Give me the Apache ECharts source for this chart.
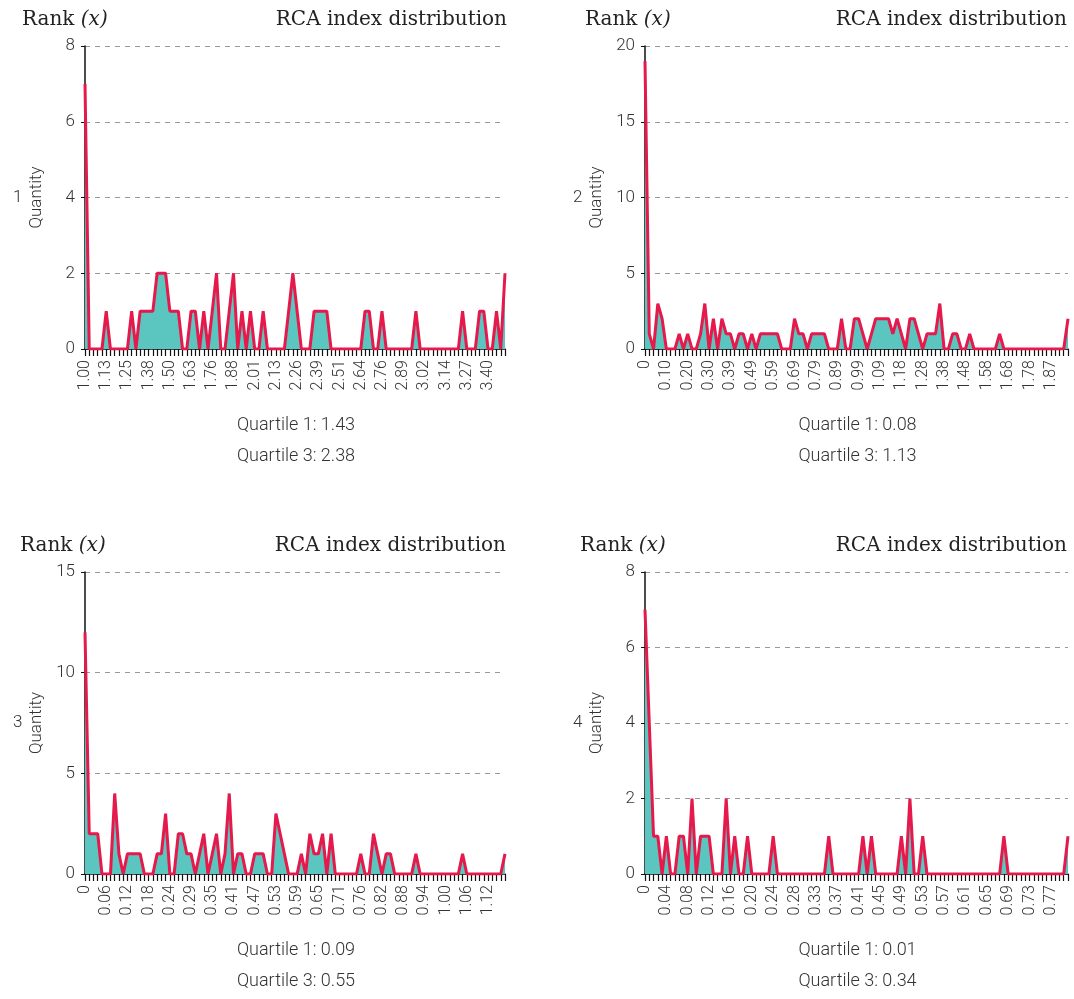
<!DOCTYPE html>
<html>
<head>
  <meta charset="utf-8">
  <title>RCA index distribution</title>
  <script src="https://cdn.jsdelivr.net/npm/echarts@6/dist/echarts.min.js"></script>
</head>
<body style="margin:0">
  <div id="main" style="width:1074px;height:999px;"></div>
  <script type="text/javascript">
    // quantity per RCA bin, 100 bins per rank
    var rank1 = [7,0,0,0,0,1,0,0,0,0, 0,1,0,1,1,1,1,2,2,2, 1,1,1,0,0,1,1,0,1,0, 1,2,0,0,1,2,0,1,0,1,
                 0,0,1,0,0,0,0,0,1,2, 1,0,0,0,1,1,1,1,0,0, 0,0,0,0,0,0,1,1,0,0, 1,0,0,0,0,0,0,0,1,0,
                 0,0,0,0,0,0,0,0,0,1, 0,0,0,1,1,0,0,1,0,2];
    var rank2 = [19,1,0,3,2,0,0,0,1,0, 1,0,0,1,3,0,2,0,2,1, 1,0,1,1,0,1,0,1,1,1, 1,1,0,0,0,2,1,1,0,1,
                 1,1,1,0,0,0,2,0,0,2, 2,1,0,1,2,2,2,2,1,2, 1,0,2,2,1,0,1,1,1,3, 0,0,1,1,0,0,1,0,0,0,
                 0,0,0,1,0,0,0,0,0,0, 0,0,0,0,0,0,0,0,0,2];
    var rank3 = [12,2,2,2,0,0,0,4,1,0, 1,1,1,1,0,0,0,1,1,3, 0,0,2,2,1,1,0,1,2,0, 1,2,0,1,4,0,1,1,0,0,
                 1,1,1,0,0,3,2,1,0,0, 0,1,0,2,1,1,2,0,2,0, 0,0,0,0,0,1,0,0,2,1, 0,1,1,0,0,0,0,0,1,0,
                 0,0,0,0,0,0,0,0,0,1, 0,0,0,0,0,0,0,0,0,1];
    var rank4 = [7,4,1,1,0,1,0,0,1,1, 0,2,0,1,1,1,0,0,0,2, 0,1,0,0,1,0,0,0,0,0, 1,0,0,0,0,0,0,0,0,0,
                 0,0,0,1,0,0,0,0,0,0, 0,1,0,1,0,0,0,0,0,0, 1,0,2,0,0,1,0,0,0,0, 0,0,0,0,0,0,0,0,0,0,
                 0,0,0,0,1,0,0,0,0,0, 0,0,0,0,0,0,0,0,0,1];

    // tick labels (every 5th bin)
    var ticks1 = ['1.00','1.13','1.25','1.38','1.50','1.63','1.76','1.88','2.01','2.13','2.26','2.39','2.51','2.64','2.76','2.89','3.02','3.14','3.27','3.40'];
    var ticks2 = ['0','0.10','0.20','0.30','0.39','0.49','0.59','0.69','0.79','0.89','0.99','1.09','1.18','1.28','1.38','1.48','1.58','1.68','1.78','1.87'];
    var ticks3 = ['0','0.06','0.12','0.18','0.24','0.29','0.35','0.41','0.47','0.53','0.59','0.65','0.71','0.76','0.82','0.88','0.94','1.00','1.06','1.12'];
    var ticks4 = ['0','0.04','0.08','0.12','0.16','0.20','0.24','0.28','0.33','0.37','0.41','0.45','0.49','0.53','0.57','0.61','0.65','0.69','0.73','0.77'];

    var yMax = [8, 20, 15, 8];
    var yStep = [2, 5, 5, 2];
    var quartile1 = ['1.43', '0.08', '0.09', '0.01'];
    var quartile3 = ['2.38', '1.13', '0.55', '0.34'];

    var series = [rank1, rank2, rank3, rank4];
    var ticks = [ticks1, ticks2, ticks3, ticks4];

    // panel boxes
    var boxes = [
      { left: 85, top: 46, width: 420, height: 303, titleRight: 507, rankLeft: 22 },
      { left: 645, top: 46, width: 423, height: 303, titleRight: 1067, rankLeft: 585 },
      { left: 85, top: 572, width: 420, height: 302, titleRight: 506, rankLeft: 20 },
      { left: 645, top: 572, width: 423, height: 302, titleRight: 1067, rankLeft: 580 }
    ];

    var sans = 'Roboto';
    var myChart = echarts.init(document.getElementById('main'));

    var grid = [], xAxis = [], yAxis = [], ser = [], graphic = [];
    for (var p = 0; p < 4; p++) {
      var b = boxes[p];
      var cats = series[p].map(function (v, i) { return i; });
      grid.push({ left: b.left, top: b.top, width: b.width, height: b.height });
      (function (lbl) {
        xAxis.push({
          type: 'category', gridIndex: p, data: cats, boundaryGap: false,
          axisLine: { show: true, lineStyle: { color: '#111', width: 1.5 } },
          axisTick: { show: true, interval: 0, length: 7, lineStyle: { color: '#111', width: 1.2 } },
          axisLabel: {
            interval: 4, rotate: 90, fontFamily: sans, fontWeight: 300, fontSize: 16, color: '#333', margin: 11,
            formatter: function (v, i) { return lbl[Math.round(i / 5)] || ''; }
          }
        });
      })(ticks[p]);
      yAxis.push({
        type: 'value', gridIndex: p, min: 0, max: yMax[p], interval: yStep[p],
        name: 'Quantity', nameLocation: 'middle', nameGap: 40,
        nameTextStyle: { fontFamily: sans, fontWeight: 300, fontSize: 17, color: '#333' },
        axisLine: { show: true, lineStyle: { color: '#111', width: 1.5 } },
        axisTick: { show: true, length: 4, lineStyle: { color: '#111' } },
        axisLabel: { fontFamily: sans, fontWeight: 300, fontSize: 17, color: '#333', margin: 10 },
        splitLine: { lineStyle: { color: '#999', type: [5, 5], width: 1 } }
      });
      ser.push({
        type: 'line', xAxisIndex: p, yAxisIndex: p, data: series[p],
        showSymbol: false, symbol: 'none',
        lineStyle: { color: '#e5194b', width: 3 },
        areaStyle: { color: '#5bc5bf', opacity: 1 }
      });

      var cx = b.left + b.width / 2 + 1;
      var bottom = b.top + b.height;
      graphic.push(
        { type: 'text', left: b.rankLeft, top: b.top - 36,
          style: { text: '{a|Rank }{b|(x)}', rich: {
            a: { fontFamily: 'DejaVu Serif', fontSize: 20, fill: '#222' },
            b: { fontFamily: 'DejaVu Serif', fontSize: 20, fontStyle: 'italic', fill: '#222' } } } },
        { type: 'text', x: b.titleRight, y: b.top - 26,
          style: { text: 'RCA index distribution', fontFamily: 'DejaVu Serif', fontSize: 20, fill: '#222', align: 'right', verticalAlign: 'middle' } },
        { type: 'text', x: b.left - 72, y: b.top + b.height / 2,
          style: { text: String(p + 1), fontFamily: sans, fontWeight: 300, fontSize: 17, fill: '#333', align: 'left', verticalAlign: 'middle' } },
        { type: 'text', x: cx, y: bottom + 76,
          style: { text: 'Quartile 1: ' + quartile1[p], fontFamily: sans, fontWeight: 300, fontSize: 18, fill: '#333', align: 'center', verticalAlign: 'middle' } },
        { type: 'text', x: cx, y: bottom + 107,
          style: { text: 'Quartile 3: ' + quartile3[p], fontFamily: sans, fontWeight: 300, fontSize: 18, fill: '#333', align: 'center', verticalAlign: 'middle' } }
      );
    }

    var option = {
      animation: false,
      backgroundColor: '#fff',
      grid: grid,
      xAxis: xAxis,
      yAxis: yAxis,
      series: ser,
      graphic: graphic
    };
    myChart.setOption(option);
  </script>
</body>
</html>
